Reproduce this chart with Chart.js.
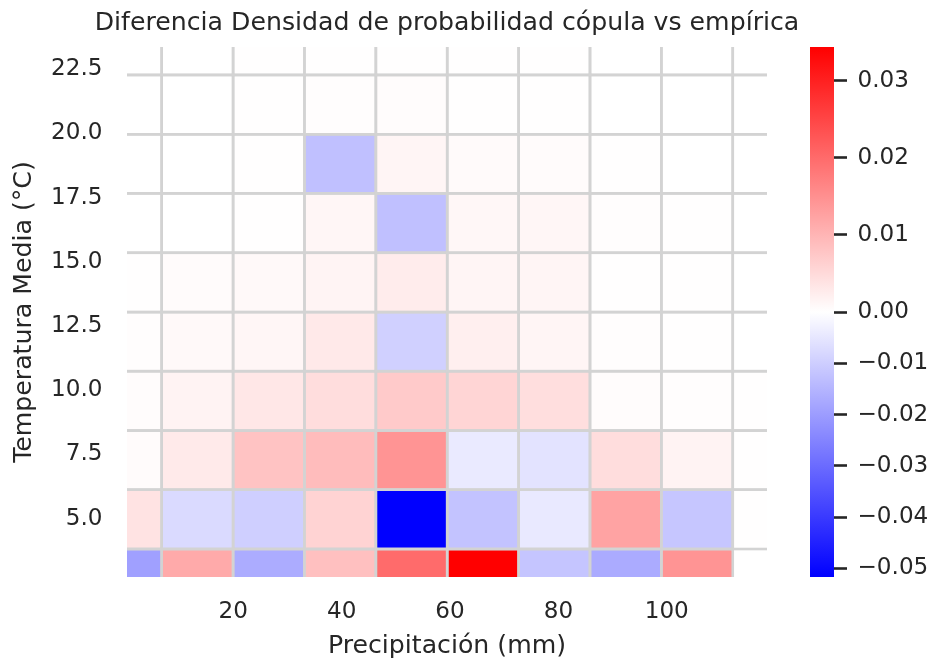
<!DOCTYPE html>
<html>
<head>
<meta charset="utf-8">
<script src="https://cdn.jsdelivr.net/npm/chart.js@4.4.1/dist/chart.umd.min.js"></script>
<style>
  html, body { margin: 0; padding: 0; background: #fff; overflow: hidden; }
  #main { position: absolute; left: 0; top: 0; }
  #cbar { position: absolute; left: 780px; top: 0; }
</style>
</head>
<body>
<canvas id="main" width="894" height="664"></canvas>
<canvas id="cbar" width="147" height="664"></canvas>
<script>
// bin edges (pcolormesh style)
var xEdges = [-6.40, 6.78, 19.96, 33.13, 46.31, 59.48, 72.66, 85.83, 99.01, 112.18, 125.36];
var yEdges = [1.52, 3.82, 6.13, 8.43, 10.74, 13.04, 15.35, 17.66, 19.96, 22.27, 24.57];

var xTicks = [20, 40, 60, 80, 100];
var yTicks = [5.0, 7.5, 10.0, 12.5, 15.0, 17.5, 20.0, 22.5];
var cbTicks = [-0.05, -0.04, -0.03, -0.02, -0.01, 0.00, 0.01, 0.02, 0.03];

// difference copula - empirical, one array per temperature bin (bottom -> top)
var row0 = [-0.0193, 0.0115, -0.0168, 0.0085, 0.0200, 0.0344, -0.0118, -0.0170, 0.0144, null];
var row1 = [0.0038, -0.0075, -0.0097, 0.0059, -0.0517, -0.0122, -0.0045, 0.0124, -0.0116, 0.0001];
var row2 = [0.0005, 0.0028, 0.0081, 0.0090, 0.0144, -0.0043, -0.0057, 0.0046, 0.0016, 0.0002];
var row3 = [0.0004, 0.0016, 0.0032, 0.0046, 0.0071, 0.0057, 0.0045, 0.0004, 0.0003, 0.0001];
var row4 = [0.0003, 0.0008, 0.0012, 0.0030, -0.0095, 0.0021, 0.0014, 0.0003, 0.0001, 0.0000];
var row5 = [0.0002, 0.0005, 0.0008, 0.0015, 0.0025, 0.0014, 0.0013, 0.0001, 0.0001, 0.0000];
var row6 = [0.0000, 0.0000, 0.0001, 0.0012, -0.0128, 0.0011, 0.0012, 0.0003, 0.0001, 0.0000];
var row7 = [0.0000, 0.0000, 0.0002, -0.0128, 0.0013, 0.0007, 0.0005, 0.0001, 0.0000, 0.0000];
var row8 = [0.0000, 0.0000, 0.0001, 0.0003, 0.0004, 0.0002, 0.0001, 0.0000, 0.0000, 0.0000];
var row9 = [0.0000, 0.0000, 0.0001, 0.0002, 0.0002, 0.0001, 0.0001, 0.0000, 0.0000, 0.0000];

var zRows = [row0, row1, row2, row3, row4, row5, row6, row7, row8, row9];

var allVals = [].concat.apply([], zRows).filter(function (v) { return v !== null; });
var vmin = Math.min.apply(null, allVals);
var vmax = Math.max.apply(null, allVals);

var TXT = '#262626';
var FONT = "'DejaVu Sans', sans-serif";
Chart.defaults.font.family = FONT;
Chart.defaults.color = TXT;

// two slope norm centred on 0, then matplotlib 'bwr'
function norm(v) {
  return v < 0 ? 0.5 * (v - vmin) / (0 - vmin) : 0.5 + 0.5 * v / vmax;
}
function bwr(v) {
  var n = norm(v), r, g, b;
  if (n < 0.5) { r = g = Math.round(510 * n); b = 255; }
  else { r = 255; g = b = Math.round(510 * (1 - n)); }
  return 'rgb(' + r + ',' + g + ',' + b + ')';
}
function cbLabel(v) {
  return v < 0 ? '\u2212' + Math.abs(v).toFixed(2) : v.toFixed(2);
}

var heatmapCells = {
  id: 'heatmapCells',
  beforeDatasetsDraw: function (chart) {
    var ctx = chart.ctx, sx = chart.scales.x, sy = chart.scales.y, a = chart.chartArea;
    var rects = [];
    zRows.forEach(function (row, j) {
      row.forEach(function (v, i) {
        if (v === null) return;
        var x0 = sx.getPixelForValue(xEdges[i]), x1 = sx.getPixelForValue(xEdges[i + 1]);
        var y0 = sy.getPixelForValue(yEdges[j + 1]), y1 = sy.getPixelForValue(yEdges[j]);
        rects.push([x0, y0, x1 - x0, y1 - y0, bwr(v)]);
      });
    });
    ctx.save();
    ctx.beginPath();
    ctx.rect(a.left, a.top, a.right - a.left, a.bottom - a.top);
    ctx.clip();
    rects.forEach(function (r) {
      ctx.fillStyle = r[4];
      ctx.fillRect(r[0], r[1], r[2], r[3]);
    });
    ctx.strokeStyle = '#d3d3d3';
    ctx.lineWidth = 2.6;
    rects.forEach(function (r) {
      ctx.strokeRect(r[0], r[1], r[2], r[3]);
    });
    ctx.restore();
  }
};

new Chart(document.getElementById('main'), {
  type: 'scatter',
  data: { datasets: [{ data: [], pointRadius: 0 }] },
  plugins: [heatmapCells],
  options: {
    responsive: false,
    animation: false,
    devicePixelRatio: 1,
    layout: { padding: 0 },
    plugins: {
      legend: { display: false },
      tooltip: { enabled: false },
      title: {
        display: true,
        text: 'Diferencia Densidad de probabilidad cópula vs empírica',
        color: TXT,
        font: { size: 25.2, weight: 'normal' },
        padding: { top: 8.8, bottom: 8.0 }
      }
    },
    scales: {
      x: {
        type: 'linear',
        min: 0.38,
        max: 118.5,
        afterBuildTicks: function (s) { s.ticks = xTicks.map(function (v) { return { value: v }; }); },
        afterFit: function (s) { s.height = 87; },
        grid: { display: false },
        border: { display: false },
        ticks: {
          autoSkip: false, maxRotation: 0, padding: 13,
          font: { size: 23.1 },
          callback: function (v) { return String(v); }
        },
        title: {
          display: true, text: 'Precipitación (mm)',
          font: { size: 25.2 }, padding: { top: 0, bottom: 2.7 }
        }
      },
      y: {
        type: 'linear',
        min: 2.731,
        max: 23.356,
        afterBuildTicks: function (s) { s.ticks = yTicks.map(function (v) { return { value: v }; }); },
        afterFit: function (s) { s.width = 127; },
        grid: { display: false },
        border: { display: false },
        ticks: {
          autoSkip: false, padding: 16.5,
          font: { size: 23.1 },
          callback: function (v) { return v.toFixed(1); }
        },
        title: {
          display: true, text: 'Temperatura Media (°C)',
          font: { size: 25.2 }, padding: { top: 9.4, bottom: 0 }
        }
      },
      // empty right box so the title stays centred over the axes
      yRight: {
        type: 'linear',
        position: 'right',
        afterFit: function (s) { s.width = 127; },
        grid: { display: false },
        border: { display: false },
        ticks: { display: false }
      }
    }
  }
});

// colorbar
new Chart(document.getElementById('cbar'), {
  type: 'bar',
  data: {
    labels: [''],
    datasets: [{
      data: [[norm(vmin), norm(vmax)]],
      borderWidth: 0,
      barPercentage: 1,
      categoryPercentage: 1,
      backgroundColor: function (c) {
        var a = c.chart.chartArea;
        if (!a) return '#ffffff';
        var sy = c.chart.scales.y;
        var g = c.chart.ctx.createLinearGradient(0, sy.getPixelForValue(0), 0, sy.getPixelForValue(1));
        g.addColorStop(0, bwr(vmin));
        g.addColorStop(0.5, bwr(0));
        g.addColorStop(1, bwr(vmax));
        return g;
      }
    }]
  },
  options: {
    responsive: false,
    animation: false,
    devicePixelRatio: 1,
    layout: { padding: { left: 30, right: 0, top: 47, bottom: 87 } },
    plugins: { legend: { display: false }, tooltip: { enabled: false } },
    scales: {
      x: { display: false },
      y: {
        position: 'right',
        min: 0,
        max: 1,
        afterBuildTicks: function (s) { s.ticks = cbTicks.map(function (v) { return { value: norm(v) }; }); },
        afterFit: function (s) { s.width = 93; },
        grid: { drawOnChartArea: false, drawTicks: true, tickLength: 13, tickWidth: 2.6, tickColor: TXT },
        border: { display: false },
        ticks: {
          autoSkip: false, padding: 10.5,
          font: { size: 23.1 },
          callback: function (v, i) { return cbLabel(cbTicks[i]); }
        }
      }
    }
  }
});
</script>
</body>
</html>
